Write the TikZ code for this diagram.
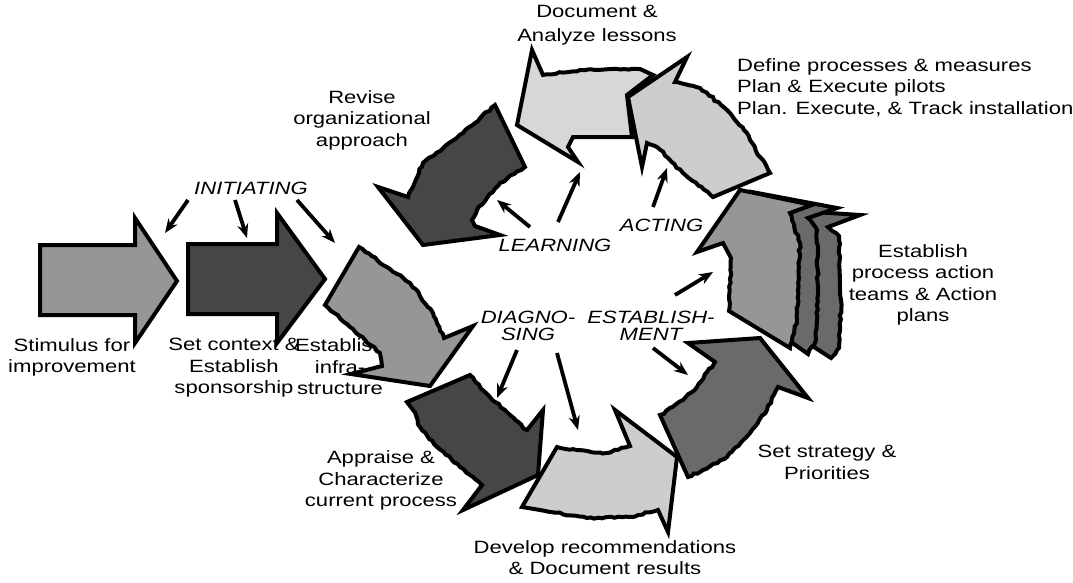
\documentclass[tikz,border=0pt]{standalone}
\usepackage{fontspec}
\setmainfont{Liberation Sans}[FakeStretch=1.24]
\usetikzlibrary{calc,arrows.meta}

% grey fills of the block arrows
\definecolor{gMid}{HTML}{969696}
\definecolor{gDark}{HTML}{464646}
\definecolor{gDeep}{HTML}{6A6A6A}
\definecolor{gLight}{HTML}{CDCDCD}
\definecolor{gPale}{HTML}{D7D7D7}

% torn edge from #1 to #2 with #3 jittered points in between
\newcommand\jag[3]{foreach \jj [evaluate=\jj as \ff using \jj/(#3+1)] in {1,...,#3} { -- ($#1!\ff!#2+({0.9*rand},{0.9*rand})$) } -- #2}

\tikzset{
  blk/.style={draw=black, line width=4pt, line join=miter},
  conn/.style={line width=3.8pt, -{Stealth[length=14pt,width=11pt]}},
  lbl/.style={font=\fontsize{17.8}{21.5}\selectfont, align=center, inner sep=0pt},
  phase/.style={font=\fontsize{17.8}{17}\selectfont\itshape, align=center, inner sep=0pt},
}

\begin{document}
\begin{tikzpicture}[x=1pt,y=-1pt]
\pgfmathsetseed{7}
\useasboundingbox (0,0) rectangle (1073,582);

% ---------- captions ----------
\node[lbl] (tStim)   at (72,357.5) {Stimulus for\\improvement};
\node[lbl] (tCtx)    at (234,368) {Set context \&\\Establish\\sponsorship};
\node[lbl] (tInfra)  at (340,367) {Establish\\infra-\\structure};
\node[lbl] (tRevise) at (362,120) {Revise\\organizational\\approach};
\node[lbl] (tDoc)    at (597,25.5) {Document \&\\[2.5pt]Analyze lessons};
\node[lbl, align=left, anchor=west] (tDef) at (737,87.5)
  {Define processes \& measures\\Plan \& Execute pilots\\Plan. Execute, \& Track installation};
\node[lbl] (tTeams)  at (923,285) {Establish\\process action\\teams \& Action\\plans};
\node[lbl] (tStrat)  at (827,462.6) {Set strategy \&\\Priorities};
\node[lbl] (tDev)    at (605,557.6) {Develop recommendations\\\& Document results};
\node[lbl] (tAppr)   at (381,480.5) {Appraise \&\\Characterize\\current process};

% ---------- phase names ----------
\node[phase] (pInit)  at (251,188.7) {INITIATING};
\node[phase] (pLearn) at (555,245.7) {LEARNING};
\node[phase] (pAct)   at (661.5,225.7) {ACTING};
\node[phase] (pDiag)  at (528,325.5) {DIAGNO-\\SING};
\node[phase] (pEst)   at (651,325.5) {ESTABLISH-\\MENT};

% ---------- straight block arrows ----------
\draw[blk, fill=gMid] (40,245) -- (135,245) -- (135,218) -- (177,281) -- (135,343) -- (135,315) -- (40,315) -- cycle;
\draw[blk, fill=gDark] (188,244) -- (277,244) -- (277,213) -- (325,279) -- (277,343) -- (277,314) -- (188,314) -- cycle;

% ---------- cycle of torn block arrows ----------
% establish infrastructure
\draw[blk, fill=gMid] (359,247) \jag{(359,247)}{(387,267)}{8} \jag{(387,267)}{(410,283)}{6}
  \jag{(410,283)}{(433,313)}{8} \jag{(433,313)}{(444,338)}{6}
  -- (473,326) -- (430,386) -- (351,374) -- (382,366)
  \jag{(382,366)}{(380,353)}{3} \jag{(380,353)}{(350,327)}{9} \jag{(350,327)}{(325,305)}{7} -- cycle;

% appraise and characterize
\draw[blk, fill=gDark] (407,402) -- (470,375) \jag{(470,375)}{(490,397)}{6} \jag{(490,397)}{(510,415)}{6}
  \jag{(510,415)}{(527,430)}{5} -- (543,410) -- (538,475) -- (463,510) -- (482,485)
  \jag{(482,485)}{(460,467)}{6} \jag{(460,467)}{(437,447)}{7} \jag{(437,447)}{(420,427)}{6}
  \jag{(420,427)}{(413,410)}{4} -- cycle;

% develop recommendations
\draw[blk, fill=gLight] (522,507) -- (557,447) \jag{(557,447)}{(577,450)}{4} \jag{(577,450)}{(607,453)}{7}
  \jag{(607,453)}{(630,446)}{5} -- (615,410) -- (677,457) -- (668,532) -- (658,510)
  \jag{(658,510)}{(630,517)}{6} \jag{(630,517)}{(587,518)}{10} \jag{(587,518)}{(540,510)}{11} -- cycle;

% set strategy
\draw[blk, fill=gDeep] (688,343) -- (760,338) -- (808,398) -- (778,387)
  \jag{(778,387)}{(767,410)}{5} \jag{(767,410)}{(750,433)}{6} \jag{(750,433)}{(727,457)}{7}
  \jag{(727,457)}{(703,470)}{6} \jag{(703,470)}{(688,477)}{4} -- (660,415)
  \jag{(660,415)}{(683,400)}{6} \jag{(683,400)}{(697,387)}{4} \jag{(697,387)}{(707,372)}{4}
  \jag{(707,372)}{(715,362)}{3} -- cycle;

% process action teams: two stacked copies behind the front arrow
\draw[blk, fill=gDeep] (772,198) -- (815,212) -- (860,215) -- (828,227)
  \jag{(828,227)}{(839,236)}{3} \jag{(839,236)}{(841,300)}{15} \jag{(841,300)}{(839,348)}{11}
  \jag{(839,348)}{(831,358)}{3} -- (780,325) -- (780,235) -- cycle;
\draw[blk, fill=gDeep] (752,192) -- (837,208) -- (808,218)
  \jag{(808,218)}{(817,230)}{3} \jag{(817,230)}{(818,290)}{14} \jag{(818,290)}{(816,340)}{12}
  \jag{(816,340)}{(808,354)}{3} -- (760,320) -- (760,230) -- cycle;
\draw[blk, fill=gMid] (740,190) -- (812,205) -- (790,213)
  \jag{(790,213)}{(800,243)}{7} \jag{(800,243)}{(798,290)}{11} \jag{(798,290)}{(797,320)}{7}
  \jag{(797,320)}{(790,348)}{7} -- (729,311) \jag{(729,311)}{(731,258)}{12}
  -- (723,243) -- (697,252) -- cycle;

% document and analyze lessons
\draw[blk, fill=gPale] (532,50) -- (543,75) \jag{(543,75)}{(580,70)}{8} \jag{(580,70)}{(640,69)}{14}
  -- (653,75) -- (627,95) -- (632,137) -- (573,137) -- (568,147) -- (578,162) -- (517,125) -- cycle;

% define processes
\draw[blk, fill=gLight] (687,57) -- (675,82) \jag{(675,82)}{(700,88)}{6} \jag{(700,88)}{(727,110)}{8}
  \jag{(727,110)}{(747,133)}{7} \jag{(747,133)}{(760,157)}{6} \jag{(760,157)}{(770,173)}{4}
  -- (713,197) \jag{(713,197)}{(683,173)}{9} \jag{(683,173)}{(657,147)}{8} \jag{(657,147)}{(647,143)}{2}
  -- (642,167) -- (628,97) -- cycle;

% revise organizational approach
\draw[blk, fill=gDark] (495,105) -- (525,167) \jag{(525,167)}{(500,183)}{6} \jag{(500,183)}{(477,210)}{8}
  \jag{(477,210)}{(472,220)}{2} -- (475,226) -- (500,235) -- (423,245) -- (378,187) -- (408,197)
  \jag{(408,197)}{(423,163)}{9} \jag{(423,163)}{(463,133)}{11} \jag{(463,133)}{(495,105)}{10} -- cycle;

% ---------- pointers from the phase names ----------
\coordinate (i1s) at (188,200); \coordinate (i1e) at (165,233);
\coordinate (i2s) at (235,200); \coordinate (i2e) at (247,238);
\coordinate (i3s) at (297,200); \coordinate (i3e) at (335,243);
\coordinate (l1s) at (530,227); \coordinate (l1e) at (497,200);
\coordinate (l2s) at (558,222); \coordinate (l2e) at (580,172);
\coordinate (a1s) at (653,207); \coordinate (a1e) at (667,168);
\coordinate (d1s) at (517,350); \coordinate (d1e) at (497,398);
\coordinate (d2s) at (557,353); \coordinate (d2e) at (578,430);
\coordinate (e1s) at (675,295); \coordinate (e1e) at (713,272);
\coordinate (e2s) at (653,348); \coordinate (e2e) at (688,375);

\draw[conn] (i1s) -- (i1e);
\draw[conn] (i2s) -- (i2e);
\draw[conn] (i3s) -- (i3e);
\draw[conn] (l1s) -- (l1e);
\draw[conn] (l2s) -- (l2e);
\draw[conn] (a1s) -- (a1e);
\draw[conn] (d1s) -- (d1e);
\draw[conn] (d2s) -- (d2e);
\draw[conn] (e1s) -- (e1e);
\draw[conn] (e2s) -- (e2e);
\end{tikzpicture}
\end{document}
